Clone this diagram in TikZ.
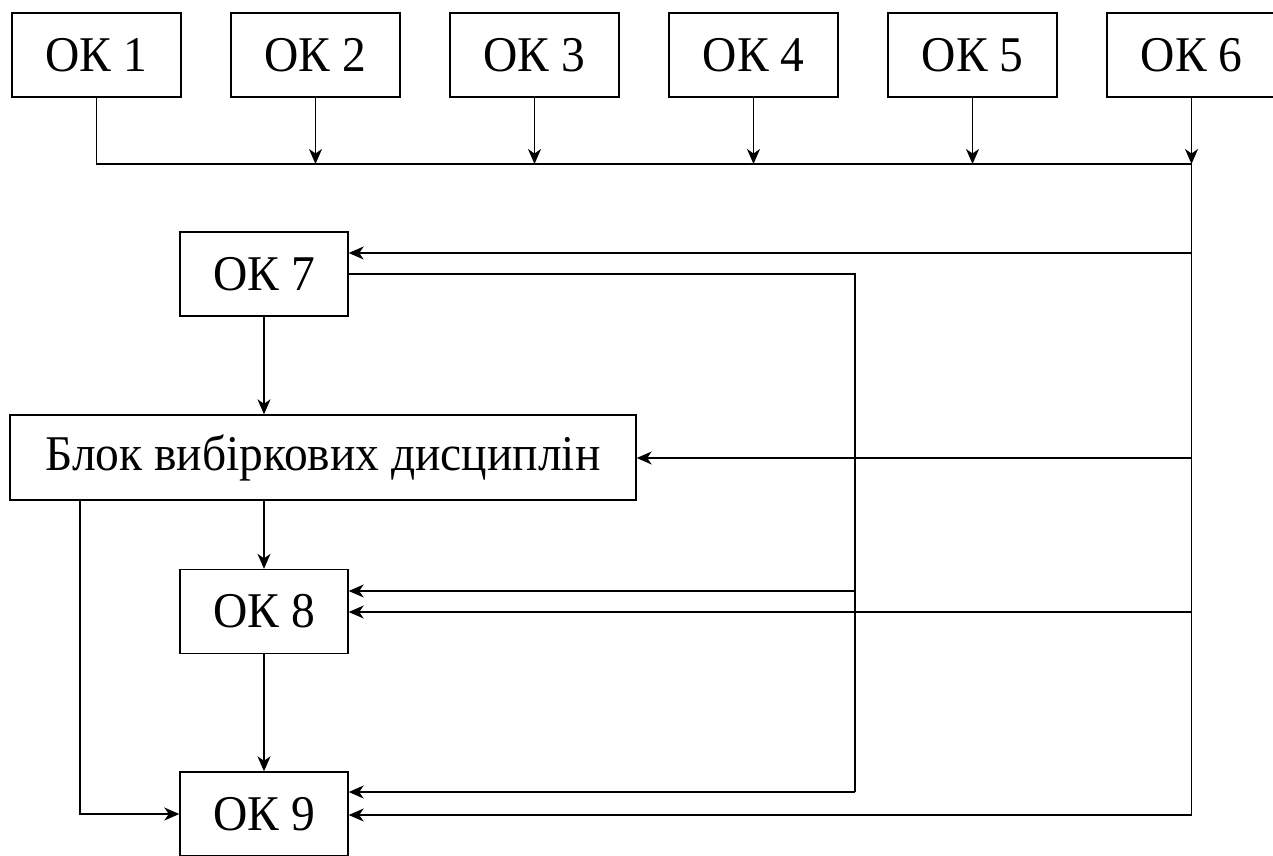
\documentclass[tikz,border=0pt]{standalone}
\usepackage{fontspec}
\setmainfont{Liberation Serif}[FakeStretch=0.95]
\usepackage{tikz}
\usetikzlibrary{arrows.meta}
\usetikzlibrary{positioning}

\tikzset{
  okbox/.style={draw, line width=1.4pt, minimum width=169pt, minimum height=84pt,
                inner sep=0pt, font=\fontsize{50}{54}\selectfont},
  wire/.style={line width=1.4pt},
  >={Stealth[length=15pt, width=13pt, inset=4.5pt]}
}

\begin{document}
\begin{tikzpicture}[x=1pt, y=-1pt]
        \useasboundingbox (0,0) rectangle (1273,855);
        % top row
        \node[okbox] (ok1) at ( 96.5,55) {ОК 1};
        \node[okbox] (ok2) at (315.5,55) {ОК 2};
        \node[okbox] (ok3) at (534.5,55) {ОК 3};
        \node[okbox] (ok4) at (753.5,55) {ОК 4};
        \node[okbox] (ok5) at (972.5,55) {ОК 5};
        \node[okbox] (ok6) at (1191.5,55) {ОК 6};
        % left column
        \node[okbox, minimum width=168pt] (ok7)  at (264,274)   {ОК 7};
        \node[okbox, minimum width=626pt, minimum height=85pt] (blok) at (323,457.5) {Блок вибіркових дисциплін};
        \node[okbox, minimum width=168pt] (ok8)  at (264,611.5) {ОК 8};
        \node[okbox, minimum width=168pt] (ok9)  at (264,814)   {ОК 9};
        % bus and trunks
        \coordinate (r0) at (1191.5,164);
        \coordinate (r1) at (1191.5,253);
        \coordinate (r2) at (1191.5,458);
        \coordinate (r3) at (1191.5,612);
        \coordinate (r4) at (1191.5,815);
        \coordinate (m0) at (855,274);
        \coordinate (m1) at (855,591);
        \coordinate (m2) at (855,792);
        \coordinate (l1) at (80,815);
        \draw[wire] (ok1.south) |- (r0);
        \foreach \n in {2,...,6}
            \draw[wire, ->] (ok\n.south) -- (ok\n.south |- r0);
        \draw[wire] (r0) -- (r4);
        \draw[wire, ->] (r1) -- (r1 -| ok7.east);
        \draw[wire, ->] (r2) -- (r2 -| blok.east);
        \draw[wire, ->] (r3) -- (r3 -| ok8.east);
        \draw[wire, ->] (r4) -- (r4 -| ok9.east);
        \draw[wire] (ok7.east) -- (m0) -- (m2);
        \draw[wire, ->] (m1) -- (m1 -| ok8.east);
        \draw[wire, ->] (m2) -- (m2 -| ok9.east);
        % down the column
        \draw[wire, ->] (ok7.south) -- (ok7.south |- blok.north);
        \draw[wire, ->] (blok.south -| ok8) -- (ok8.north);
        \draw[wire, ->] (ok8) -- (ok9);
        \draw[wire, ->] (blok.south -| l1) |- (ok9.west);
\end{tikzpicture}
\end{document}
